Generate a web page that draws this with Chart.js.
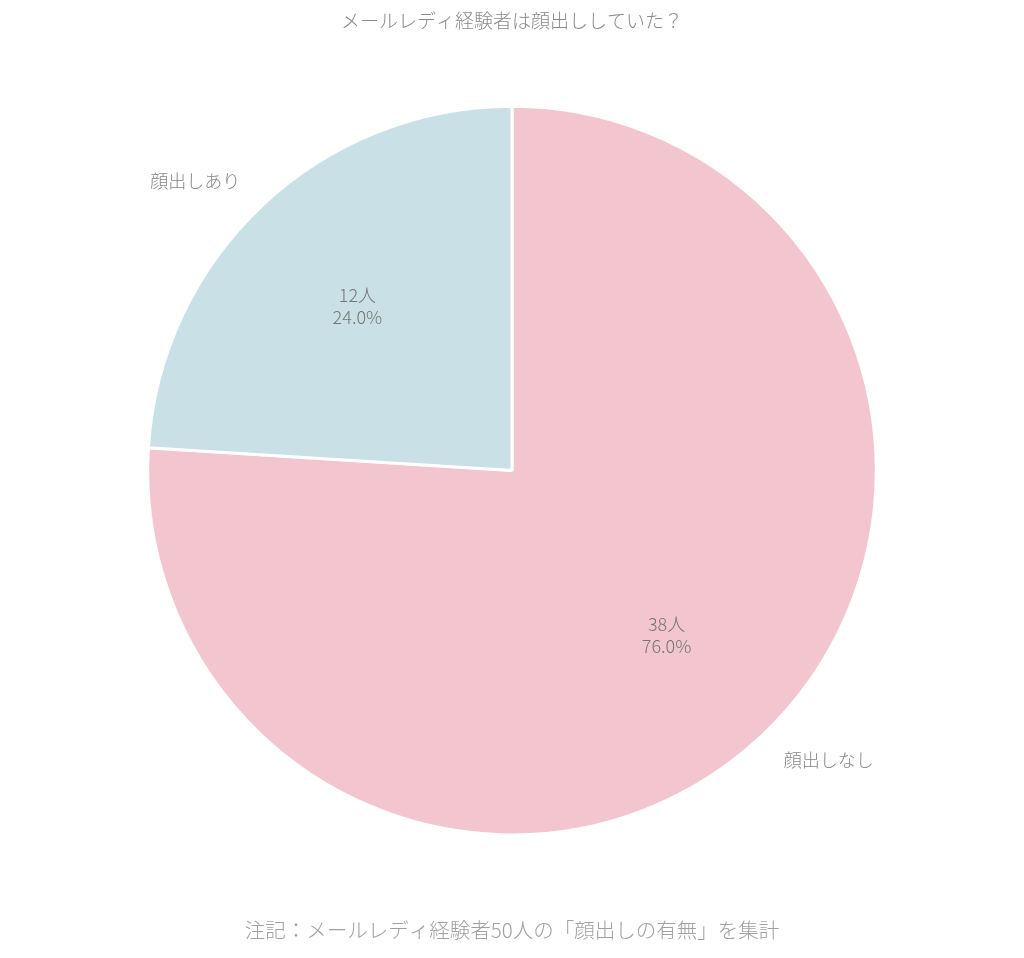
<!DOCTYPE html>
<html lang="ja">
<head>
<meta charset="utf-8">
<script src="https://cdn.jsdelivr.net/npm/chart.js@4"></script>
<style>
  html, body { margin: 0; padding: 0; background: #fff; }
  #wrap { width: 1024px; height: 958px; }
</style>
</head>
<body>
<div id="wrap"><canvas id="faceChart" width="1024" height="958"></canvas></div>
<script>
const categories = ['顔出しなし', '顔出しあり'];
const counts = [38, 12];
const sliceColors = ['#f3c5cf', '#c9e1e6'];
const titleText = 'メールレディ経験者は顔出ししていた？';
const noteText = '注記：メールレディ経験者50人の「顔出しの有無」を集計';

const FONT = '"Noto Sans CJK JP", "Noto Sans", sans-serif';

// labels outside (category) and inside (count + percent)
const sliceLabels = {
  id: 'sliceLabels',
  afterDatasetsDraw(chart) {
    const ctx = chart.ctx;
    const meta = chart.getDatasetMeta(0);
    const total = counts.reduce((a, b) => a + b, 0);
    ctx.save();
    ctx.font = '300 18px ' + FONT;
    ctx.textBaseline = 'middle';
    meta.data.forEach(function(arc, i) {
      const mid = (arc.startAngle + arc.endAngle) / 2;
      const r = arc.outerRadius;
      const cos = Math.cos(mid), sin = Math.sin(mid);

      // inside
      ctx.fillStyle = '#757575';
      ctx.textAlign = 'center';
      const ix = arc.x + cos * r * 0.62;
      const iy = arc.y + sin * r * 0.62;
      ctx.fillText(counts[i] + '人', ix, iy - 11);
      ctx.fillText((counts[i] / total * 100).toFixed(1) + '%', ix, iy + 11);

      // outside
      ctx.fillStyle = '#858585';
      ctx.textAlign = cos < 0 ? 'right' : 'left';
      ctx.fillText(categories[i], arc.x + cos * r * 1.09, arc.y + sin * r * 1.09);
    });
    ctx.restore();
  }
};

new Chart(document.getElementById('faceChart'), {
  type: 'pie',
  data: {
    labels: categories,
    datasets: [{
      data: counts,
      backgroundColor: sliceColors,
      borderColor: '#ffffff',
      borderWidth: 3
    }]
  },
  options: {
    responsive: false,
    animation: false,
    layout: { padding: 0 },
    plugins: {
      legend: { display: false },
      tooltip: { enabled: false },
      title: {
        display: true,
        text: titleText,
        color: '#8a8a8a',
        font: { family: FONT, size: 19, weight: 300, lineHeight: 1.2 },
        padding: { top: 9, bottom: 73 }
      },
      subtitle: {
        display: true,
        position: 'bottom',
        text: noteText,
        color: '#a0a0a0',
        font: { family: FONT, size: 20.5, weight: 300, lineHeight: 1.2 },
        padding: { top: 82, bottom: 15 }
      }
    }
  },
  plugins: [sliceLabels]
});
</script>
</body>
</html>
